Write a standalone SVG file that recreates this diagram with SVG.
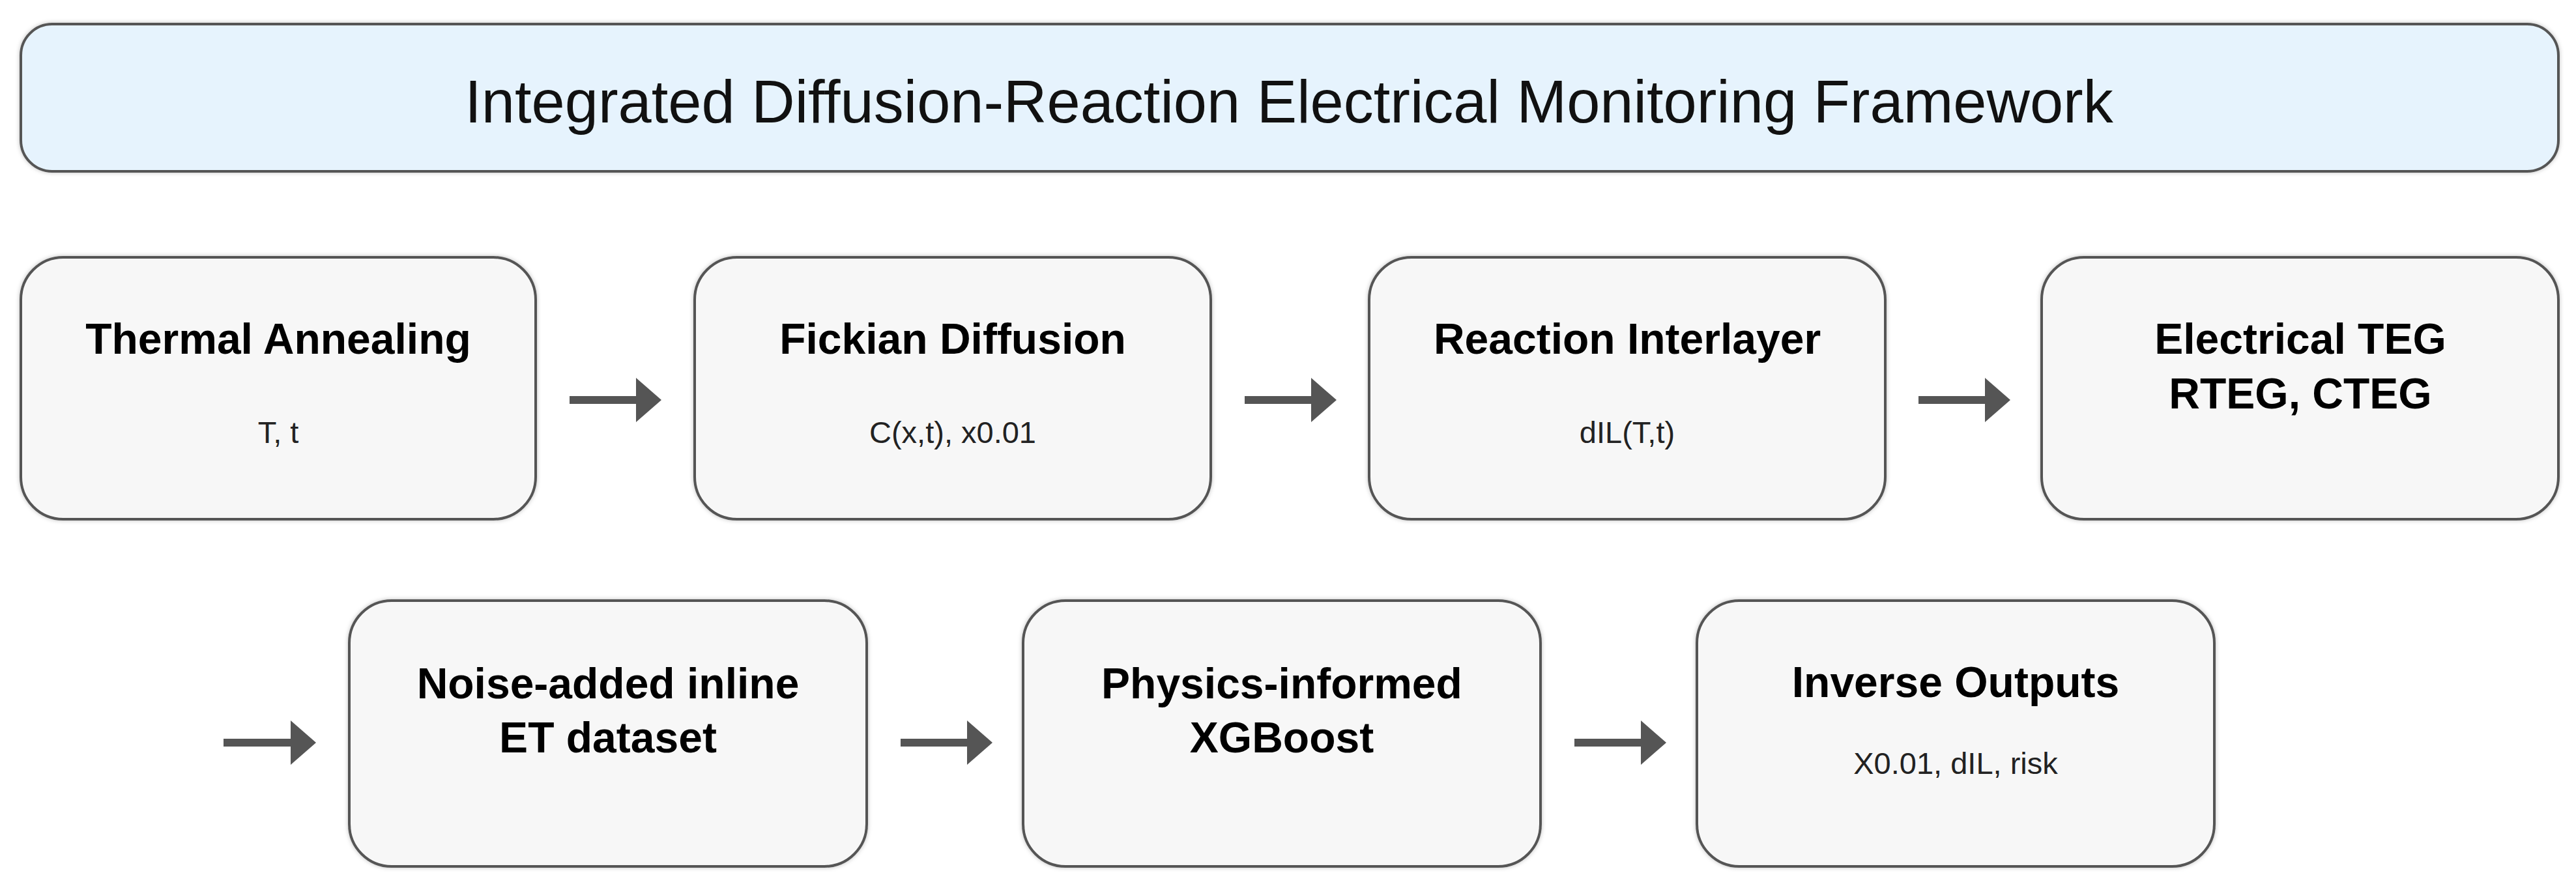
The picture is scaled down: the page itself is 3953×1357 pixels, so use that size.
<svg xmlns="http://www.w3.org/2000/svg" width="3953" height="1357" viewBox="0 0 3953 1357">
  <style>
    .box { fill: #f7f7f7; stroke: #555555; stroke-width: 4; }
    .hdr { fill: #e6f3fd; stroke: #555555; stroke-width: 4; }
    .ttl { font-family: "Liberation Sans", Arial, sans-serif; font-weight: bold; font-size: 66px; fill: #000000; text-anchor: middle; }
    .sub { font-family: "Liberation Sans", Arial, sans-serif; font-size: 47px; fill: #222222; text-anchor: middle; }
    .head { font-family: "Liberation Sans", Arial, sans-serif; font-size: 92px; fill: #111111; text-anchor: middle; }
    .conn { stroke: #555555; stroke-width: 12; fill: none; marker-end: url(#arr); }
  </style>
  <defs>
    <marker id="arr" markerUnits="userSpaceOnUse" markerWidth="40" markerHeight="70" refX="0" refY="34" orient="auto">
      <path d="M0,0 L39,34 L0,68 Z" fill="#555555"/>
    </marker>
    <filter id="sh" x="-5%" y="-10%" width="110%" height="120%">
      <feDropShadow dx="0" dy="0" stdDeviation="3" flood-color="#000000" flood-opacity="0.25"/>
    </filter>
  </defs>
  <rect width="3953" height="1357" fill="#ffffff"/>

  <g id="header">
    <rect class="hdr" x="32" y="37" width="3894" height="226" rx="48" ry="48" filter="url(#sh)"/>
    <text class="head" x="1978" y="188">Integrated Diffusion-Reaction Electrical Monitoring Framework</text>
  </g>

  <g id="thermal-annealing">
    <rect class="box" x="32" y="395" width="790" height="402" rx="65" ry="65" filter="url(#sh)"/>
    <text class="ttl" x="427" y="543">Thermal Annealing</text>
    <text class="sub" x="427" y="680">T, t</text>
  </g>
  <g id="fickian-diffusion">
    <rect class="box" x="1066" y="395" width="792" height="402" rx="65" ry="65" filter="url(#sh)"/>
    <text class="ttl" x="1462" y="543">Fickian Diffusion</text>
    <text class="sub" x="1462" y="680">C(x,t), x0.01</text>
  </g>
  <g id="reaction-interlayer">
    <rect class="box" x="2101" y="395" width="792" height="402" rx="65" ry="65" filter="url(#sh)"/>
    <text class="ttl" x="2497" y="543">Reaction Interlayer</text>
    <text class="sub" x="2497" y="680">dIL(T,t)</text>
  </g>
  <g id="electrical-teg">
    <rect class="box" x="3133" y="395" width="793" height="402" rx="65" ry="65" filter="url(#sh)"/>
    <text class="ttl" x="3530" y="543">Electrical TEG</text>
    <text class="ttl" x="3530" y="627">RTEG, CTEG</text>
  </g>

  <g id="noise-dataset">
    <rect class="box" x="536" y="922" width="794" height="408" rx="65" ry="65" filter="url(#sh)"/>
    <text class="ttl" x="933" y="1072">Noise-added inline</text>
    <text class="ttl" x="933" y="1155">ET dataset</text>
  </g>
  <g id="physics-xgboost">
    <rect class="box" x="1570" y="922" width="794" height="408" rx="65" ry="65" filter="url(#sh)"/>
    <text class="ttl" x="1967" y="1072">Physics-informed</text>
    <text class="ttl" x="1967" y="1155">XGBoost</text>
  </g>
  <g id="inverse-outputs">
    <rect class="box" x="2604" y="922" width="794" height="408" rx="65" ry="65" filter="url(#sh)"/>
    <text class="ttl" x="3001" y="1070">Inverse Outputs</text>
    <text class="sub" x="3001" y="1188">X0.01, dIL, risk</text>
  </g>

  <g id="connectors">
    <line class="conn" x1="874" y1="614" x2="976" y2="614"/>
    <line class="conn" x1="1910" y1="614" x2="2012" y2="614"/>
    <line class="conn" x1="2944" y1="614" x2="3046" y2="614"/>
    <line class="conn" x1="343" y1="1140" x2="446" y2="1140"/>
    <line class="conn" x1="1382" y1="1140" x2="1484" y2="1140"/>
    <line class="conn" x1="2416" y1="1140" x2="2518" y2="1140"/>
  </g>
</svg>
